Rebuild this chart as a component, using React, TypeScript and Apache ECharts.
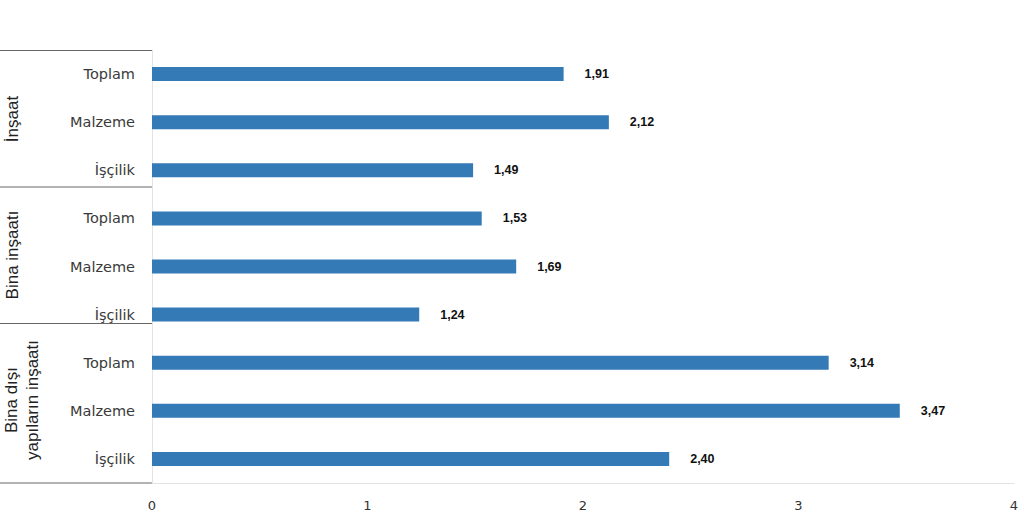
import React, { useEffect, useRef } from "react";
import * as echarts from "echarts";

const categories = [
  "Toplam", "Malzeme", "İşçilik",
  "Toplam", "Malzeme", "İşçilik",
  "Toplam", "Malzeme", "İşçilik",
];
const values = [1.91, 2.12, 1.49, 1.53, 1.69, 1.24, 3.14, 3.47, 2.40];
const groupLabels = ["İnşaat", "Bina inşaatı", "Bina dışı\nyapıların inşaatı"];
const xTicks = [0, 1, 2, 3, 4];

const FONT = "'Liberation Sans', Arial, Helvetica, sans-serif";
const WIDE = "'DejaVu Sans', Verdana, sans-serif";

export default function App() {
  const ref = useRef<HTMLDivElement>(null);
  useEffect(() => {
    document.body.style.margin = "0";
    const chart = echarts.init(ref.current!, undefined, { renderer: "svg" });
    const sepColor = "#666";
    chart.setOption({
      animation: false,
      textStyle: { fontFamily: FONT },
      grid: { left: 152, right: 10, top: 50, bottom: 36, containLabel: false },
      xAxis: {
        type: "value",
        min: xTicks[0],
        max: xTicks[xTicks.length - 1],
        interval: 1,
        axisLine: { show: true, lineStyle: { color: "#e3e3e3", width: 1 } },
        axisTick: { show: false },
        splitLine: { show: false },
        axisLabel: { color: "#333", fontSize: 13, margin: 16, fontFamily: WIDE },
      },
      yAxis: {
        type: "category",
        data: categories,
        inverse: true,
        axisLine: { show: true, lineStyle: { color: "#e3e3e3", width: 1 } },
        axisTick: { show: false },
        axisLabel: { color: "#3a3a3a", fontSize: 14.5, margin: 17, fontFamily: WIDE },
      },
      series: [
        {
          type: "bar",
          data: values,
          barWidth: 14,
          itemStyle: { color: "#337ab7" },
          label: {
            show: true,
            position: "right",
            distance: 21,
            color: "#111",
            fontSize: 12.5,
            fontWeight: "bold",
            fontFamily: FONT,
            formatter: (p: any) => p.value.toFixed(2).replace(".", ","),
          },
        },
      ],
      graphic: [
        { type: "line", shape: { x1: 0, y1: 50.5, x2: 152, y2: 50.5 }, style: { stroke: sepColor, lineWidth: 1 } },
        { type: "line", shape: { x1: 0, y1: 187, x2: 152, y2: 187 }, style: { stroke: sepColor, lineWidth: 1 } },
        { type: "line", shape: { x1: 0, y1: 323.5, x2: 152, y2: 323.5 }, style: { stroke: sepColor, lineWidth: 1 } },
        { type: "line", shape: { x1: 0, y1: 483, x2: 152, y2: 483 }, style: { stroke: sepColor, lineWidth: 1 } },
        {
          type: "text", x: 12, y: 119, rotation: Math.PI / 2,
          style: { text: groupLabels[0], fill: "#222", font: `17px ${FONT}`, textAlign: "center", textVerticalAlign: "middle" },
        },
        {
          type: "text", x: 12, y: 255, rotation: Math.PI / 2,
          style: { text: groupLabels[1], fill: "#222", font: `17px ${FONT}`, textAlign: "center", textVerticalAlign: "middle" },
        },
        {
          type: "text", x: 22, y: 400, rotation: Math.PI / 2,
          style: { text: groupLabels[2], fill: "#222", font: `17px ${FONT}`, textAlign: "center", textVerticalAlign: "middle", lineHeight: 21 },
        },
      ],
    });
    return () => chart.dispose();
  }, []);
  return <div ref={ref} style={{ width: 1024, height: 519 }} />;
}
